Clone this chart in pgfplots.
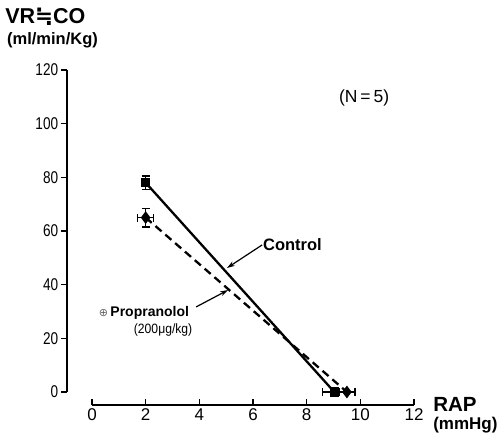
\documentclass[border=0pt]{standalone}
\usepackage{fontspec}
\setmainfont{Liberation Sans}
\newfontfamily\dejavu{DejaVu Sans}
\usepackage{pgfplots}
\pgfplotsset{compat=1.18}
\usetikzlibrary{arrows.meta}

\begin{document}
\begin{tikzpicture}
\useasboundingbox (-92pt,-44pt) rectangle (408pt,392pt);
\begin{axis}[at={(0,0)}, anchor=origin,
  scale only axis, width=322pt, height=322pt,
  xmin=0, xmax=12, ymin=0, ymax=120,
  axis x line=bottom, axis y line=left,
  axis line style={-, line width=1.5pt},
  axis x line shift=13pt, axis y line shift=25pt,
  xtick={0,2,...,12}, ytick={0,20,...,120},
  xtick align=inside, ytick align=outside,
  major tick length=6pt,
  tick style={line width=1.3pt, black},
  /pgf/number format/assume math mode=true,
  tick label style={font=\fontsize{17}{17}\selectfont},
  yticklabel style={xscale=0.8},
  clip=false]

\addplot[black, line width=2.3pt, mark=square*, mark size=3.5pt,
  error bars/.cd, x dir=both, x explicit, y dir=both, y explicit,
  error bar style={line width=1.3pt},
  error mark options={rotate=90, mark size=4pt, line width=1.3pt}]
  coordinates {(2,78) +- (0,2.5) (9.03,0) +- (0.45,0)};

\addplot[black, line width=2.3pt, dash pattern=on 8pt off 5pt,
  mark=diamond*, mark size=4.5pt, mark options={solid},
  error bars/.cd, x dir=both, x explicit, y dir=both, y explicit,
  error bar style={line width=1.3pt, solid},
  error mark options={rotate=90, mark size=4pt, line width=1.3pt, solid}]
  coordinates {(2,65) +- (0.3,3.5) (9.5,0) +- (0.3,0)};

% annotations
\draw[-{Stealth[length=8pt,width=5pt]}, line width=1.2pt]
  (axis cs:6.34,54.8) -- (axis cs:5.03,46.2);
\node[anchor=west, inner sep=0pt, font=\bfseries\fontsize{16.5}{16.5}\selectfont]
  at (axis cs:6.37,54.8) {Control};
\draw[-{Stealth[length=8pt,width=5pt]}, line width=1.2pt]
  (axis cs:3.88,31.7) -- (axis cs:5.07,38.0);
\node[anchor=west, inner sep=0pt, font=\bfseries\fontsize{14}{14}\selectfont]
  at (axis cs:0.25,29.4) {{\dejavu\mdseries\fontsize{11}{11}\selectfont\textcolor{black!60}{⊕}}\,Propranolol};
\node[inner sep=0pt, font=\fontsize{13.5}{13.5}\selectfont, xscale=0.9]
  at (axis cs:2.65,23.1) {(200μg/kg)};
\node[inner sep=0pt, font=\fontsize{17.5}{17.5}\selectfont]
  at (axis cs:10.14,109.6) {(N\,=\,5)};

% axis titles
\node[anchor=west, inner sep=0pt, font=\bfseries\fontsize{21.5}{21.5}\selectfont]
  at (axis cs:-3.24,139.8) {VR{\dejavu\bfseries ≒}CO};
\node[anchor=west, inner sep=0pt, font=\bfseries\fontsize{16.5}{16.5}\selectfont]
  at (axis cs:-3.17,131.2) {(ml/min/Kg)};
\node[anchor=west, inner sep=0pt, font=\bfseries\fontsize{20.5}{20.5}\selectfont]
  at (axis cs:12.71,-4.8) {RAP};
\node[anchor=west, inner sep=0pt, font=\bfseries\fontsize{17}{17}\selectfont]
  at (axis cs:12.71,-12.3) {(mmHg)};
\end{axis}
\end{tikzpicture}
\end{document}
